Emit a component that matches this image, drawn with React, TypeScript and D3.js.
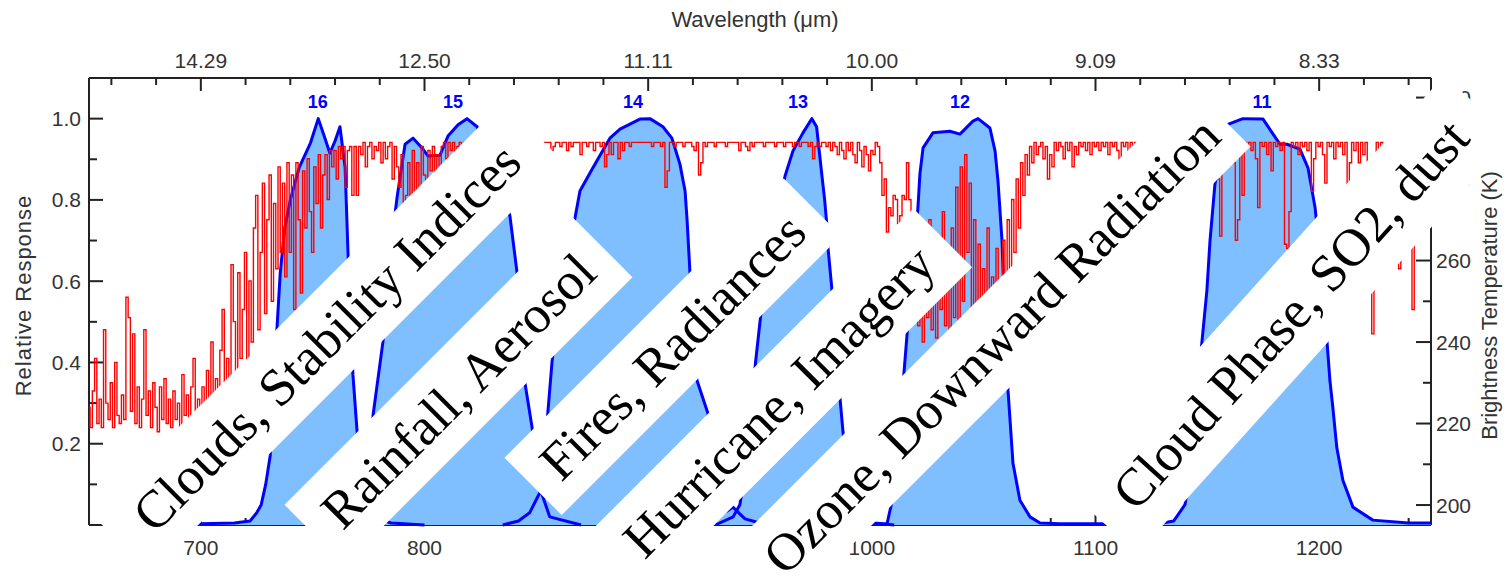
import React from 'react';
import * as d3 from 'd3';

const W = 1506;
const H = 584;

// ---------- data ----------
const wnDomain = [650, 1250];
const respDomain = [0, 1.1];
const btDomain = [195.1, 304.8];

const majorWn = [700, 800, 900, 1000, 1100, 1200];
const bottomLabels = ['700', '800', '900', '1000', '1100', '1200'];
const topLabels = ['14.29', '12.50', '11.11', '10.00', '9.09', '8.33'];
const respTicks = [0.2, 0.4, 0.6, 0.8, 1.0];
const respLabels = ['0.2', '0.4', '0.6', '0.8', '1.0'];
const btTicks = [200, 220, 240, 260, 280, 300];

const bandNames = ['16', '15', '14', '13', '12', '11'];
const bandCenters = [752.3, 812.8, 893.2, 967.0, 1039.4, 1174.4];

const band16Wn = [690, 700, 715, 722, 725, 727, 729, 731, 734, 735.5, 737.5, 740, 744, 749, 752.5, 755, 757.7, 760, 762.2, 764.5, 765.8, 768, 770, 773, 777, 785, 800];
const band16R = [0, 0.003, 0.005, 0.01, 0.03, 0.05, 0.1, 0.17, 0.48, 0.62, 0.73, 0.8, 0.88, 0.94, 1.0, 0.96, 0.915, 0.945, 0.98, 0.88, 0.67, 0.37, 0.22, 0.08, 0.02, 0.005, 0];

const band15Wn = [765, 772, 775, 777, 781.4, 784.5, 787.7, 791.3, 794.9, 798.9, 801.6, 806.9, 810.5, 815, 819, 823.5, 828, 833, 838.2, 841.4, 844.9, 848.1, 851, 856, 870];
const band15R = [0, 0.01, 0.08, 0.27, 0.45, 0.66, 0.805, 0.937, 0.952, 0.928, 0.908, 0.91, 0.957, 0.985, 1.0, 0.98, 0.93, 0.87, 0.76, 0.62, 0.35, 0.24, 0.1, 0.02, 0];

const band14Wn = [835, 842, 847, 851.6, 854, 857, 860, 863.5, 867.3, 869.5, 875.3, 882.9, 887.4, 896.3, 900.8, 906.6, 910.6, 914.2, 916.5, 917.4, 918.7, 921.8, 926.7, 929.9, 933, 935.5, 937.9, 940.5, 943.3, 950, 960];
const band14R = [0, 0.01, 0.03, 0.08, 0.2, 0.4, 0.55, 0.67, 0.756, 0.822, 0.879, 0.952, 0.974, 0.999, 1.0, 0.98, 0.952, 0.888, 0.822, 0.75, 0.62, 0.356, 0.275, 0.1, 0.03, 0.035, 0.044, 0.03, 0.015, 0.005, 0];

const band13Wn = [930, 938, 941, 944, 948, 952, 956, 961.2, 964.7, 969.2, 973.2, 975.3, 977.6, 978.9, 979.8, 980.4, 982.2, 985.8, 987.1, 990.2, 994.7, 1001.4, 1010];
const band13R = [0, 0.02, 0.05, 0.15, 0.4, 0.6, 0.72, 0.859, 0.92, 0.965, 1.0, 0.98, 0.864, 0.8, 0.744, 0.682, 0.577, 0.31, 0.23, 0.08, 0.02, 0.005, 0];

const band12Wn = [995, 1006.8, 1009.5, 1011.7, 1014, 1016.2, 1018.4, 1020.6, 1021.5, 1022.9, 1027.3, 1034.9, 1039.4, 1045.2, 1047.5, 1052.8, 1055.1, 1056.4, 1058.2, 1059.5, 1060.9, 1063.1, 1066.2, 1070.7, 1075.2, 1084, 1105, 1110];
const band12R = [0, 0.003, 0.07, 0.18, 0.35, 0.5, 0.65, 0.78, 0.864, 0.928, 0.965, 0.969, 0.962, 0.994, 1.0, 0.977, 0.92, 0.847, 0.7, 0.5, 0.33, 0.152, 0.061, 0.02, 0.005, 0.003, 0.003, 0];

const band11Wn = [1125, 1135, 1140, 1144.5, 1146.7, 1149.8, 1151.2, 1153.4, 1159.2, 1165.9, 1174.9, 1179.4, 1182.5, 1185.6, 1191.4, 1195, 1198.2, 1201.5, 1204.8, 1206.1, 1207.9, 1210.6, 1215.1, 1224, 1240, 1250];
const band11R = [0, 0.01, 0.05, 0.2, 0.4, 0.577, 0.7, 0.839, 0.986, 1.0, 0.999, 0.962, 0.937, 0.937, 0.925, 0.879, 0.78, 0.6, 0.356, 0.29, 0.19, 0.11, 0.044, 0.012, 0.005, 0.005];

// brightness temperature (K), 1 cm-1 steps starting at 650 cm-1
const btStart = 650;
const btValues = [
  224, 219, 228, 236, 220, 226, 219, 243, 225, 221, 230, 219, 235, 222, 220, 227, 221, 251, 246, 223,
  242, 220, 229, 219, 226, 243, 222, 228, 219, 230, 224, 218, 229, 221, 231, 220, 226, 219, 228, 221,
  225, 219, 232, 222, 227, 220, 229, 236, 222, 226,
  224, 229, 222, 233, 225, 240, 224, 231, 226, 238, 248, 227, 236, 229, 259, 245, 231, 257, 236, 248,
  262, 235, 255, 240, 268, 276, 243, 262, 279, 247, 270, 281, 250, 274, 258, 283, 262, 279, 256, 284,
  262, 281, 248, 284, 270, 252, 282, 268, 285, 272, 262, 283, 274, 286, 268, 281, 286, 275, 287, 283,
  287, 280, 288, 285, 288, 278, 287, 288, 276, 288,
  276, 288, 286, 289, 283, 288, 289, 285, 288, 287, 289, 284, 289, 285, 288, 289, 280, 288, 283, 278,
  286, 262, 276, 284, 276, 287, 265, 284, 277, 288, 281, 268, 287, 282, 288, 281, 286, 280, 288, 289,
  285, 289, 287, 289, 284, 288, 289, 286, 289, 287, 289, 288, 284, 289, 287, 289, 285, 289, 288, 289,
  286, 289, 288, 289, 287, 289, 289, 287, 289, 289,
  289, 289, 288, 289, 289, 289, 288, 289, 289, 289, 289, 289, 289, 288, 289, 289, 289, 287, 288, 289,
  289, 288, 289, 289, 287, 289, 288, 289, 289, 289, 286, 289, 289, 288, 289, 289, 287, 289, 289, 288,
  289, 283, 286, 289, 286, 289, 289, 285, 289, 287, 289, 289, 288, 289, 289, 289, 289, 289, 289, 289,
  289, 289, 288, 289, 289, 289, 288, 289, 278, 282, 289, 289, 288, 289, 289, 289, 288, 289, 289, 289,
  288, 287, 289, 281, 284, 289, 288, 289, 289, 289, 288, 289, 289, 289, 289, 288, 289, 289, 289, 289,
  289, 287, 289, 289, 288, 287, 289, 288, 289, 289, 289, 289, 288, 289, 289, 289, 289, 288, 289, 289,
  289, 288, 289, 289, 289, 288, 289, 289, 288, 289, 289, 289, 288, 289, 285, 288, 289, 288, 289, 289,
  288, 289, 287, 289, 288, 286, 289, 287, 285, 289, 287, 289, 286, 284, 289, 287, 283, 288, 286, 282,
  287, 286, 289, 288, 284, 276, 280, 267, 273, 271, 276, 275, 269, 271, 276, 275, 284,
  275, 262, 248, 266, 244, 258, 240, 262, 246, 270, 243, 255, 241, 264, 248, 272, 244, 259, 242, 268,
  246, 278, 243, 283, 250, 286, 262, 279, 245, 270, 249, 264, 242, 258, 247, 268, 244, 256, 241, 263,
  248, 252, 265, 246,
  270, 255, 275, 262, 280, 268, 284, 276, 286, 281, 288, 284, 289, 286, 288, 289, 285, 288, 280, 286,
  283, 289, 287, 289, 288, 285, 289, 287, 289, 283, 288, 286, 289, 288, 289, 287, 289, 286, 289, 288,
  289, 287, 289, 288, 289, 286, 289, 288, 289, 287, 285, 289, 288, 289, 287, 289, 288, 289, 286, 289,
  288, 289, 287, 289, 288, 289, 287, 289, 288, 289,
  289, 287, 289, 288, 289, 285, 289, 288, 289, 286, 289, 288, 289, 284, 289, 287, 289, 288, 289,
  289, 284, 289, 287, 289, 280, 266, 289, 288, 289, 286, 289, 284, 265, 270, 289, 276, 289, 288, 289,
  287, 289, 285, 273, 289, 288, 289, 286, 289, 282, 289, 288, 289, 287, 289, 264, 263, 272, 289, 288,
  289, 286, 289, 288, 289, 287, 289, 277, 285, 289, 288, 289, 286, 279, 289, 288, 289, 285, 289, 288,
  289, 286, 289, 278, 284, 289, 287, 289, 284, 289, 286, 289, 283, 255, 242, 270, 289, 286, 289, 282,
  288, 276, 289, 285, 289, 280, 258, 275, 289, 284, 287, 270, 248, 267, 285, 289, 278, 286, 282, 289,
  287,
];

// annotation banners (text overlays)
const bannerTexts = ['Clouds, Stability Indices', 'Rainfall, Aerosol', 'Fires, Radiances', 'Hurricane, Imagery', 'Ozone, Downward Radiation', 'Cloud Phase, SO2, dust'];
const bannerGeom = [
  { cx: 327, cy: 337.5, len: 583, wid: 83, angle: -45, shift: 0 },
  { cx: 458.5, cy: 391, len: 407, wid: 85, angle: -45, shift: 0 },
  { cx: 672.75, cy: 346.75, len: 395, wid: 81, angle: -45, shift: 0 },
  { cx: 779, cy: 401.5, len: 463, wid: 83, angle: -45, shift: 0 },
  { cx: 986.75, cy: 350.75, len: 662, wid: 84, angle: -45, shift: 7 },
  { cx: 1290.8, cy: 314.6, len: 560, wid: 92, angle: -48, shift: 0 },
];

// ---------- layout ----------
const left = 89, right = 1431, top = 78, bottom = 525;

export default function App() {
  const x = d3.scaleLinear().domain(wnDomain).range([left, right]);
  const y = d3.scaleLinear().domain(respDomain).range([bottom, top]);
  const yT = d3.scaleLinear().domain(btDomain).range([bottom, top]);

  const bands = [
    { wn: band16Wn, r: band16R },
    { wn: band15Wn, r: band15R },
    { wn: band14Wn, r: band14R },
    { wn: band13Wn, r: band13R },
    { wn: band12Wn, r: band12R },
    { wn: band11Wn, r: band11R },
  ].map((b) => b.wn.map((w, i) => [w, b.r[i]] as [number, number]));

  const area = d3.area<[number, number]>().x((d) => x(d[0])).y0(y(0)).y1((d) => y(d[1]));
  const line = d3.line<[number, number]>().x((d) => x(d[0])).y((d) => y(d[1]));

  const bt = btValues.map((v, i) => [btStart + i, v] as [number, number]);
  const btLine = d3.line<[number, number]>().x((d) => x(d[0])).y((d) => yT(d[1])).curve(d3.curveStep);

  const minorWn = d3.range(660, 1250, 20).filter((v) => v % 100 !== 0);
  const minorResp = [0.1, 0.3, 0.5, 0.7, 0.9];
  const minorBt = [210, 230, 250, 270, 290];

  const axisColor = '#222';
  const labelColor = '#333';
  const tickFont = { fontFamily: 'Liberation Sans, Arial, sans-serif', fontSize: 21, fill: labelColor };

  return (
    <svg width={W} height={H} style={{ position: 'absolute', left: 0, top: 0, background: '#fff' }}>
      <rect x={0} y={0} width={W} height={H} fill="#fff" />
      {/* frame */}
      <g stroke={axisColor} strokeWidth={2} fill="none">
        <line x1={left} x2={right} y1={top} y2={top} />
        <line x1={left} x2={right} y1={bottom} y2={bottom} />
        <line x1={left} x2={left} y1={top} y2={bottom} />
        <line x1={right} x2={right} y1={top} y2={bottom} />
        {majorWn.map((v) => (
          <g key={'M' + v}>
            <line x1={x(v)} x2={x(v)} y1={bottom} y2={bottom - 12} />
            <line x1={x(v)} x2={x(v)} y1={top} y2={top + 13} />
          </g>
        ))}
        {minorWn.map((v) => (
          <g key={'m' + v}>
            <line x1={x(v)} x2={x(v)} y1={bottom} y2={bottom - 7} />
            <line x1={x(v)} x2={x(v)} y1={top} y2={top + 7} />
          </g>
        ))}
        {respTicks.map((v) => (
          <line key={'r' + v} x1={left} x2={left + 14} y1={y(v)} y2={y(v)} />
        ))}
        {minorResp.map((v) => (
          <line key={'rm' + v} x1={left} x2={left + 8} y1={y(v)} y2={y(v)} />
        ))}
        {btTicks.map((v) => (
          <line key={'t' + v} x1={right} x2={right - 15} y1={yT(v)} y2={yT(v)} />
        ))}
        {minorBt.map((v) => (
          <line key={'tm' + v} x1={right} x2={right - 8} y1={yT(v)} y2={yT(v)} />
        ))}
      </g>
      {/* tick labels */}
      <g {...tickFont}>
        {majorWn.map((v, i) => (
          <text key={'bl' + v} x={x(v)} y={555} textAnchor="middle">{bottomLabels[i]}</text>
        ))}
        {majorWn.map((v, i) => (
          <text key={'tl' + v} x={x(v)} y={68} textAnchor="middle">{topLabels[i]}</text>
        ))}
        {respTicks.map((v, i) => (
          <text key={'rl' + v} x={81} y={y(v) + 7.5} textAnchor="end">{respLabels[i]}</text>
        ))}
        {btTicks.map((v) => (
          <text key={'tl2' + v} x={1436} y={yT(v) + 7.5} textAnchor="start">{v}</text>
        ))}
      </g>
      {/* axis titles */}
      <g fontFamily="Liberation Sans, Arial, sans-serif" fontSize={22} fill={labelColor}>
        <text x={(left + right) / 2 - 5} y={27} textAnchor="middle">Wavelength (μm)</text>
        <text transform={`translate(31, ${(top + bottom) / 2 - 6}) rotate(-90)`} textAnchor="middle" letterSpacing={1}>Relative Response</text>
        <text transform={`translate(1497, ${(top + bottom) / 2 + 4}) rotate(-90)`} textAnchor="middle">Brightness Temperature (K)</text>
      </g>
      {/* bands */}
      <g>
        {bands.map((b, i) => (
          <path key={'a' + i} d={area(b) || ''} fill="#80bfff" />
        ))}
        {bands.map((b, i) => (
          <path key={'l' + i} d={line(b) || ''} fill="none" stroke="#0000ff" strokeWidth={3} strokeLinejoin="round" />
        ))}
      </g>
      {/* brightness temperature */}
      <path d={btLine(bt) || ''} fill="none" stroke="#ff0000" strokeWidth={1.4} />
      {/* band numbers */}
      <g fontFamily="Liberation Sans, Arial, sans-serif" fontSize={18} fontWeight="bold" fill="#0000ff">
        {bandCenters.map((c, i) => (
          <text key={'bn' + i} x={x(c)} y={108} textAnchor="middle">{bandNames[i]}</text>
        ))}
      </g>
      {/* banners */}
      {bannerGeom.map((g, i) => (
        <g key={'bn' + i} transform={`translate(${g.cx}, ${g.cy}) rotate(${g.angle})`}>
          <rect x={-g.len / 2} y={-g.wid / 2} width={g.len} height={g.wid} fill="#fff" />
          <text x={g.shift} y={0} dy="0.33em" textAnchor="middle" fontFamily="Liberation Serif, Times New Roman, serif" fontSize={53} fill="#000">
            {bannerTexts[i]}
          </text>
        </g>
      ))}
    </svg>
  );
}
